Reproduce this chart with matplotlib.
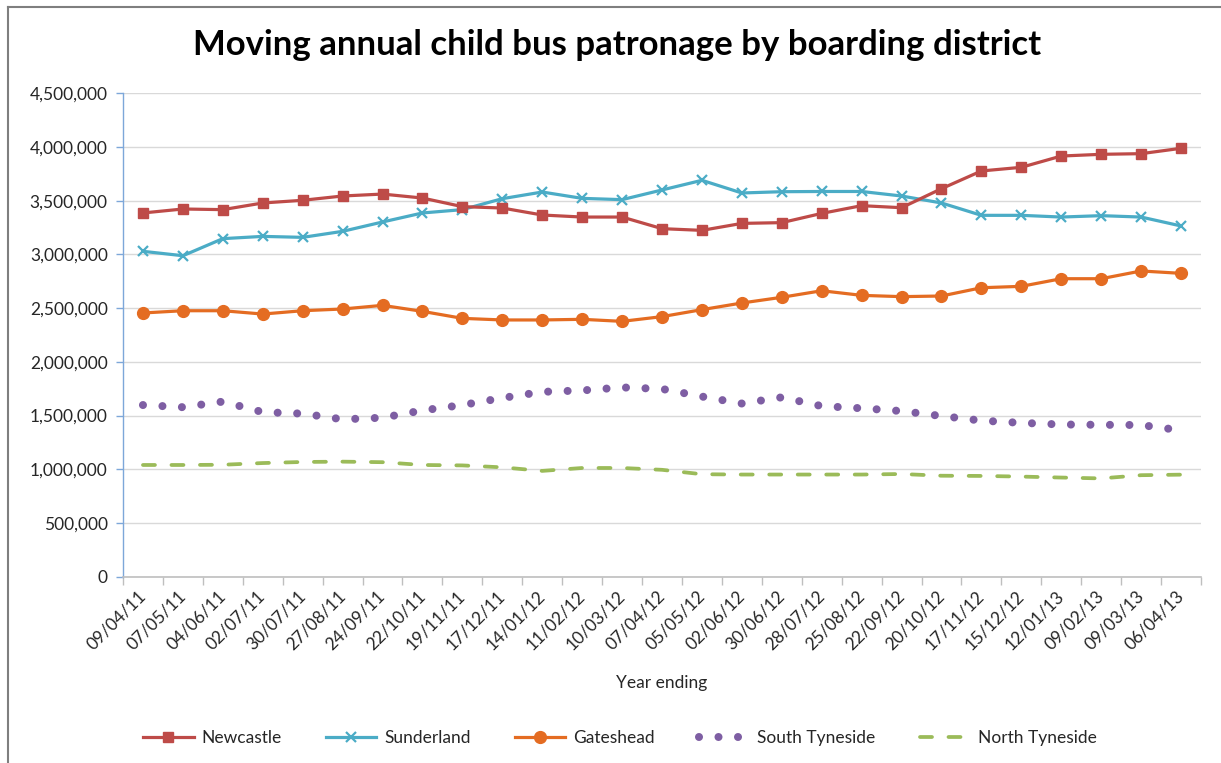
import matplotlib
matplotlib.use("Agg")
import matplotlib.pyplot as plt
import numpy as np
from matplotlib.ticker import FuncFormatter, FixedLocator
from matplotlib.lines import Line2D

plt.rcParams['font.family'] = ['Lato', 'DejaVu Sans']

dates = ["09/04/11", "07/05/11", "04/06/11", "02/07/11", "30/07/11", "27/08/11",
         "24/09/11", "22/10/11", "19/11/11", "17/12/11", "14/01/12", "11/02/12",
         "10/03/12", "07/04/12", "05/05/12", "02/06/12", "30/06/12", "28/07/12",
         "25/08/12", "22/09/12", "20/10/12", "17/11/12", "15/12/12", "12/01/13",
         "09/02/13", "09/03/13", "06/04/13"]

newcastle = [3386000, 3423000, 3417000, 3479000, 3504000, 3544000, 3562000, 3525000,
             3445000, 3432000, 3367000, 3348000, 3348000, 3240000, 3224000, 3289000,
             3296000, 3382000, 3454000, 3435000, 3612000, 3777000, 3811000, 3916000,
             3932000, 3938000, 3988000]
sunderland = [3029000, 2988000, 3147000, 3168000, 3159000, 3215000, 3302000, 3386000,
              3417000, 3519000, 3581000, 3522000, 3510000, 3600000, 3690000, 3572000,
              3584000, 3586000, 3586000, 3544000, 3479000, 3364000, 3364000, 3348000,
              3361000, 3348000, 3265000]
gateshead = [2455000, 2476000, 2476000, 2445000, 2476000, 2492000, 2526000, 2470000,
             2405000, 2390000, 2390000, 2396000, 2377000, 2421000, 2486000, 2548000,
             2601000, 2662000, 2619000, 2607000, 2613000, 2690000, 2703000, 2774000,
             2774000, 2846000, 2824000]
south_tyneside = [1598000, 1578000, 1630000, 1532000, 1518000, 1465000, 1480000, 1548000,
                  1598000, 1664000, 1721000, 1734000, 1762000, 1748000, 1677000, 1612000,
                  1670000, 1588000, 1568000, 1542000, 1496000, 1453000, 1432000, 1417000,
                  1414000, 1412000, 1362000]
north_tyneside = [1040000, 1040000, 1042000, 1058000, 1068000, 1071000, 1066000, 1040000,
                  1036000, 1018000, 985000, 1012000, 1012000, 995000, 954000, 951000,
                  951000, 951000, 951000, 956000, 940000, 938000, 932000, 923000,
                  915000, 945000, 950000]

yticks = [0, 500000, 1000000, 1500000, 2000000, 2500000, 3000000, 3500000, 4000000, 4500000]

W, H = 1221, 763
fig = plt.figure(figsize=(W / 100, H / 100), dpi=100)
fig.patch.set_facecolor('white')

# chart-area border (left & top visible)
fig.add_artist(Line2D([8 / W, 8 / W], [0, 1 - 7 / H], transform=fig.transFigure,
                      color='#7f7f7f', lw=1.5))
fig.add_artist(Line2D([8 / W, 1], [1 - 7 / H, 1 - 7 / H], transform=fig.transFigure,
                      color='#7f7f7f', lw=1.5))

left, right = 123 / W, 1201 / W
bottom, top = 1 - 576.7 / H, 1 - 93.3 / H
ax = fig.add_axes([left, bottom, right - left, top - bottom])

x = np.arange(len(dates))

ax.plot(x, north_tyneside, color='#9BBB59', lw=2.7, linestyle=(0, (3.2, 4.4)),
        dash_capstyle='round', label='North Tyneside', zorder=3)
ax.plot(x, south_tyneside, color='#7E5EA3', lw=5.8, linestyle=(0, (0.001, 2.42)),
        dash_capstyle='round', label='South Tyneside', zorder=3)
ax.plot(x, gateshead, color='#E46C22', lw=2.3, marker='o', markersize=8.5,
        label='Gateshead', zorder=4)
ax.plot(x, sunderland, color='#4BACC6', lw=2.3, marker='x', markersize=7,
        markeredgewidth=1.6, label='Sunderland', zorder=4)
ax.plot(x, newcastle, color='#BE4B48', lw=2.3, marker='s', markersize=7,
        label='Newcastle', zorder=5)

ax.set_xlim(-0.5, len(dates) - 0.5)
ax.set_ylim(0, 4500000)
ax.set_yticks(yticks)
ax.yaxis.set_major_formatter(FuncFormatter(lambda v, p: f"{int(v):,}"))
ax.grid(axis='y', color='#D9D9D9', lw=1.0)
ax.set_axisbelow(True)

for s in ['top', 'right']:
    ax.spines[s].set_visible(False)
ax.spines['left'].set_color('#7DA7D9')
ax.spines['left'].set_linewidth(1.0)
ax.spines['bottom'].set_color('#BFBFBF')
ax.spines['bottom'].set_linewidth(1.2)

ax.tick_params(axis='y', direction='out', length=5, color='#7DA7D9', width=1.0,
               labelsize=12.5, labelcolor='#262626', pad=6)

# category boundary tick marks
ax.xaxis.set_major_locator(FixedLocator(np.arange(-0.5, len(dates), 1.0)))
ax.xaxis.set_major_formatter(FuncFormatter(lambda v, p: ""))
ax.tick_params(axis='x', which='major', direction='out', length=6, color='#BFBFBF', width=1.0)
ax.xaxis.set_minor_locator(FixedLocator(x))
ax.set_xticklabels(dates, minor=True)
ax.tick_params(axis='x', which='minor', length=0, labelsize=12.5, labelcolor='#262626', pad=12)
for lbl in ax.get_xticklabels(minor=True):
    lbl.set_rotation(45)
    lbl.set_ha('right')
    lbl.set_va('center')
    lbl.set_rotation_mode('anchor')

fig.text(662 / W, 1 - 683 / H, 'Year ending', ha='center', va='center',
         fontsize=12.5, color='#262626')
fig.text(617 / W, 1 - 45 / H, 'Moving annual child bus patronage by boarding district',
         ha='center', va='center', fontsize=25, fontweight='bold', color='black')

handles, labels = ax.get_legend_handles_labels()
order = ['Newcastle', 'Sunderland', 'Gateshead', 'South Tyneside', 'North Tyneside']
hmap = dict(zip(labels, handles))
leg = fig.legend([hmap[k] for k in order], order, loc='center',
                 bbox_to_anchor=(620 / W, 1 - 738 / H), ncol=5, frameon=False,
                 fontsize=12.5, handlelength=2.9, handletextpad=0.45,
                 columnspacing=2.55)
for t in leg.get_texts():
    t.set_color('#262626')

fig.savefig('out.png', dpi=100)
